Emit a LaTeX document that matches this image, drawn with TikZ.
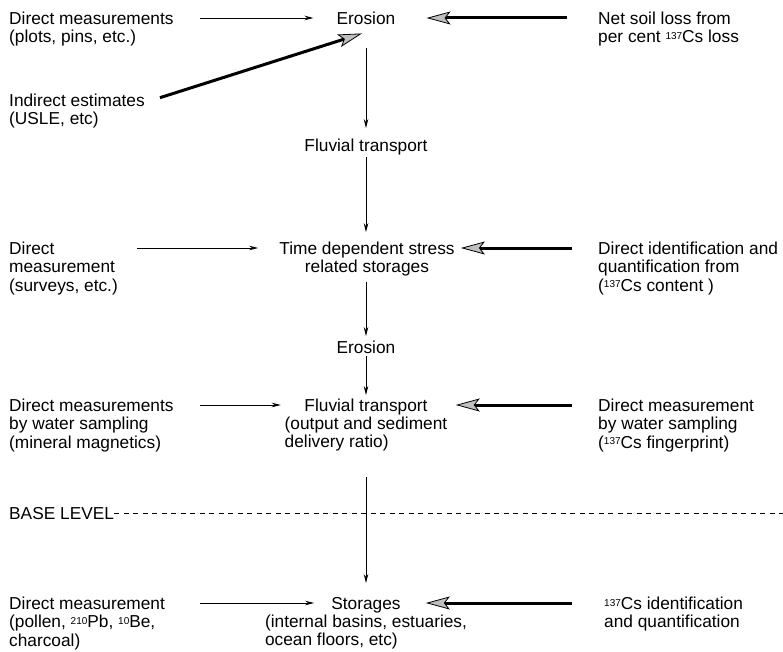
\documentclass[tikz,border=0pt]{standalone}
\usepackage{fontspec}
\setmainfont{Liberation Sans}
\usetikzlibrary{arrows.meta}
\newcommand\isot[1]{\raisebox{3.4pt}{\fontsize{10pt}{10pt}\selectfont #1}}

\begin{document}
\begin{tikzpicture}[x=1pt,y=-1pt,
    txt/.style={inner sep=0pt,font=\fontsize{17.3pt}{18.3pt}\selectfont},
    lbl/.style={txt,anchor=north west,align=left},
    box/.style={txt,text height=12.5pt,text depth=0pt},
    flow/.style={line width=0.9pt,-{Stealth[length=9pt,width=4.5pt]}},
    feed/.style={line width=3pt,-{Stealth[length=24pt,width=13pt,inset=5pt,fill=gray!50,line width=0.8pt]}},
    lvl/.style={line width=0.8pt,dash pattern=on 5pt off 4.5pt}
]
\useasboundingbox (0,0) rectangle (783,652);
% main chain, centre column
\node[box] (ero1) at (366,18) {Erosion};
\node[box] (flu1) at (366,145) {Fluvial transport};
\node[txt,anchor=north,align=center] (tds) at (367,241.7) {Time dependent stress\\related storages};
\node[box] (ero2) at (366,347) {Erosion};
\node[box] (flu2) at (366,405) {Fluvial transport};
\node[txt,anchor=north,align=left] (flu2n) at ([yshift=-18.3pt]flu2.north) {(output and sediment\\delivery ratio)};
\node[box] (sto) at (366,603) {Storages};
\node[txt,anchor=north,align=left] (ston) at ([yshift=-18.3pt]sto.north) {(internal basins, estuaries,\\ocean floors, etc)};
% methods, left column
\node[lbl] (dma) at (9,11.7) {Direct measurements\\(plots, pins, etc.)};
\node[lbl] (ind) at (9,93.7) {Indirect estimates\\(USLE, etc)};
\node[lbl] (dmb) at (9,241.7) {Direct\\measurement\\(surveys, etc.)};
\node[lbl] (dmc) at (9,398.7) {Direct measurements\\by water sampling\\(mineral magnetics)};
\node[box,anchor=west] (base) at (9,513) {BASE LEVEL};
\node[lbl] (dmd) at (9,596.7) {Direct measurement\\(pollen, \isot{210}Pb, \isot{10}Be,\\charcoal)};
% caesium methods, right column
\node[lbl] (nsl) at (598,11.7) {Net soil loss from\\per cent \isot{137}Cs loss};
\node[lbl] (dif) at (598,241.7) {Direct identification and\\quantification from\\(\isot{137}Cs content )};
\node[lbl] (dmw) at (598,398.7) {Direct measurement\\by water sampling\\(\isot{137}Cs fingerprint)};
\node[lbl] (csq) at (604,596.7) {\isot{137}Cs identification\\and quantification};
\coordinate (tdsw) at ([yshift=-6.3pt]tds.north west);
\coordinate (tdse) at ([yshift=-6.3pt]tds.north east);
% thin arrows from the left
\draw[flow,shorten <=26pt,shorten >=23pt] (dma.east |- ero1) -- (ero1.west);
\draw[flow,shorten <=19pt,shorten >=21pt] (dmb.east |- tdsw) -- (tdsw);
\draw[flow,shorten <=26pt,shorten >=23.5pt] (dmc.east |- flu2) -- (flu2.west);
\draw[flow,shorten <=35pt,shorten >=17pt] (dmd.east |- sto) -- (sto.west);
% thick arrows from the right
\draw[feed,shorten <=31pt,shorten >=31pt] (nsl.west |- ero1) -- (ero1.east);
\draw[feed,shorten <=26pt,shorten >=6pt] (dif.west |- tdse) -- (tdse);
\draw[feed,shorten <=26pt,shorten >=28pt] (dmw.west |- flu2) -- (flu2.east);
\draw[feed,shorten <=32pt,shorten >=25pt] (csq.west |- sto) -- (sto.east);
\draw[feed] ([shift={(15,4)}]ind.north east) -- ([shift={(-4,9)}]ero1.south);
% down the chain
\draw[flow,shorten <=23.5pt,shorten >=10.5pt] (ero1.south) -- (ero1.south |- flu1.north);
\draw[flow,shorten <=5.5pt,shorten >=9.5pt] (flu1.south) -- (flu1.south |- tds.north);
\draw[flow,shorten <=5pt,shorten >=4.5pt] (tds.south -| ero2) -- (ero2.north);
\draw[flow,shorten <=3pt,shorten >=3.5pt] (ero2.south) -- (flu2.north);
\draw[flow,shorten <=25.5pt,shorten >=13.5pt] (flu2n.south -| sto) -- (sto.north);
% base level
\coordinate (lvlend) at (783,513);
\draw[lvl] (base.east) -- (lvlend);
\end{tikzpicture}
\end{document}
